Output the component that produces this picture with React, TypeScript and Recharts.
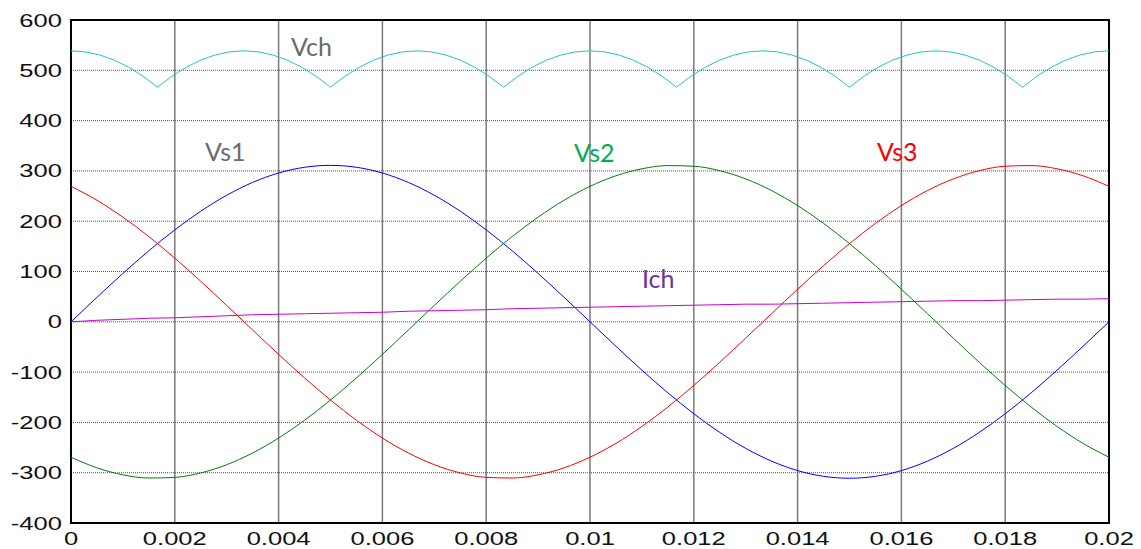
import React from "react";
import { LineChart, Line, XAxis, YAxis, CartesianGrid, ReferenceArea } from "recharts";

// sample times (s) for the three phase voltages and the charge current
const times = [
  0, 0.0005, 0.001, 0.0015, 0.002, 0.0025, 0.003, 0.0035, 0.004, 0.0045,
  0.005, 0.0055, 0.006, 0.0065, 0.007, 0.0075, 0.008, 0.0085, 0.009, 0.0095,
  0.01, 0.0105, 0.011, 0.0115, 0.012, 0.0125, 0.013, 0.0135, 0.014, 0.0145,
  0.015, 0.0155, 0.016, 0.0165, 0.017, 0.0175, 0.018, 0.0185, 0.019, 0.0195, 0.02,
];

const vs1 = [
  0, 48.7, 96.1, 141.2, 182.8, 219.9, 251.6, 277.1, 295.8, 307.2,
  311, 307.2, 295.8, 277.1, 251.6, 219.9, 182.8, 141.2, 96.1, 48.7,
  0, -48.7, -96.1, -141.2, -182.8, -219.9, -251.6, -277.1, -295.8, -307.2,
  -311, -307.2, -295.8, -277.1, -251.6, -219.9, -182.8, -141.2, -96.1, -48.7, 0,
];

const vs2 = [
  -269.3, -290.3, -304.2, -310.6, -309.3, -300.4, -284.1, -260.8, -231.1, -195.7,
  -155.5, -111.5, -64.7, -16.3, 32.5, 80.5, 126.5, 169.4, 208.1, 241.7,
  269.3, 290.3, 304.2, 310.6, 309.3, 300.4, 284.1, 260.8, 231.1, 195.7,
  155.5, 111.5, 64.7, 16.3, -32.5, -80.5, -126.5, -169.4, -208.1, -241.7, -269.3,
];

const vs3 = [
  269.3, 241.7, 208.1, 169.4, 126.5, 80.5, 32.5, -16.3, -64.7, -111.5,
  -155.5, -195.7, -231.1, -260.8, -284.1, -300.4, -309.3, -310.6, -304.2, -290.3,
  -269.3, -241.7, -208.1, -169.4, -126.5, -80.5, -32.5, 16.3, 64.7, 111.5,
  155.5, 195.7, 231.1, 260.8, 284.1, 300.4, 309.3, 310.6, 304.2, 290.3, 269.3,
];

const ich = [
  0, 3, 5, 7, 8, 10, 12, 14, 15, 16,
  17, 18, 19, 21, 22, 23, 24, 26, 27, 28,
  29, 30, 31, 32, 33, 34, 35, 35, 36, 37,
  38, 39, 40, 41, 42, 42, 43, 44, 45, 45, 46,
];

// rectified output voltage, sampled finer so the cusps stay sharp
const vchTimes = [
  0, 0.000278, 0.000556, 0.000833, 0.001111, 0.001389, 0.001667, 0.001944, 0.002222, 0.0025, 0.002778, 0.003056,
  0.003333, 0.003611, 0.003889, 0.004167, 0.004444, 0.004722, 0.005, 0.005278, 0.005556, 0.005833, 0.006111, 0.006389,
  0.006667, 0.006944, 0.007222, 0.0075, 0.007778, 0.008056, 0.008333, 0.008611, 0.008889, 0.009167, 0.009444, 0.009722,
  0.01, 0.010278, 0.010556, 0.010833, 0.011111, 0.011389, 0.011667, 0.011944, 0.012222, 0.0125, 0.012778, 0.013056,
  0.013333, 0.013611, 0.013889, 0.014167, 0.014444, 0.014722, 0.015, 0.015278, 0.015556, 0.015833, 0.016111, 0.016389,
  0.016667, 0.016944, 0.017222, 0.0175, 0.017778, 0.018056, 0.018333, 0.018611, 0.018889, 0.019167, 0.019444, 0.019722,
  0.02,
];

const vch = [
  538.7, 536.6, 530.5, 520.3, 506.2, 488.2, 466.5, 488.2, 506.2, 520.3, 530.5, 536.6,
  538.7, 536.6, 530.5, 520.3, 506.2, 488.2, 466.5, 488.2, 506.2, 520.3, 530.5, 536.6,
  538.7, 536.6, 530.5, 520.3, 506.2, 488.2, 466.5, 488.2, 506.2, 520.3, 530.5, 536.6,
  538.7, 536.6, 530.5, 520.3, 506.2, 488.2, 466.5, 488.2, 506.2, 520.3, 530.5, 536.6,
  538.7, 536.6, 530.5, 520.3, 506.2, 488.2, 466.5, 488.2, 506.2, 520.3, 530.5, 536.6,
  538.7, 536.6, 530.5, 520.3, 506.2, 488.2, 466.5, 488.2, 506.2, 520.3, 530.5, 536.6,
  538.7,
];

const xTicks = [0, 0.002, 0.004, 0.006, 0.008, 0.01, 0.012, 0.014, 0.016, 0.018, 0.02];
const xTickLabels = ["0", "0.002", "0.004", "0.006", "0.008", "0.01", "0.012", "0.014", "0.016", "0.018", "0.02"];
const yTicks = [-400, -300, -200, -100, 0, 100, 200, 300, 400, 500, 600];
const yTickLabels = ["-400", "-300", "-200", "-100", "0", "100", "200", "300", "400", "500", "600"];

const rows = times.map((t, i) => ({ t, vs1: vs1[i], vs2: vs2[i], vs3: vs3[i], ich: ich[i] }));
const vchRows = vchTimes.map((t, i) => ({ t, vch: vch[i] }));

const tickFont = "'Liberation Sans', Arial, sans-serif";
const labelFont = "Lato, 'Open Sans', sans-serif";

const XTick = (props: any) => {
  const { x, y, payload } = props;
  const i = xTicks.indexOf(payload.value);
  return (
    <g transform={`translate(${x},${y + 22})`}>
      <text textAnchor="middle" transform="scale(1.42,1)" fontSize={18} fill="#111" fontFamily={tickFont}>
        {xTickLabels[i]}
      </text>
    </g>
  );
};

const YTick = (props: any) => {
  const { y, payload } = props;
  const i = yTicks.indexOf(payload.value);
  return (
    <g transform={`translate(62,${y + 6.5})`}>
      <text textAnchor="end" transform="scale(1.42,1)" fontSize={18} fill="#111" fontFamily={tickFont}>
        {yTickLabels[i]}
      </text>
    </g>
  );
};

const seriesLabels = [
  { text: "Vch", x: 291, y: 56, color: "#6b6b6b" },
  { text: "Vs1", x: 205, y: 161, color: "#6b6b6b" },
  { text: "Vs2", x: 574, y: 162, color: "#00b050" },
  { text: "Vs3", x: 877, y: 161, color: "#ff0000" },
  { text: "Ich", x: 642, y: 288, color: "#7030a0" },
];

export default function App() {
  return (
    <div style={{ position: "absolute", left: 0, top: 0, width: 1141, height: 549, background: "#fff" }}>
      <LineChart width={1141} height={549} data={rows} margin={{ top: 20, right: 32, bottom: 0, left: 0 }}>
        <CartesianGrid horizontal={false} vertical stroke="#7a7a7a" strokeWidth={1.5} />
        <CartesianGrid horizontal vertical={false} stroke="#555" strokeDasharray="1 1" />
        <XAxis
          dataKey="t"
          type="number"
          domain={[0, 0.02]}
          ticks={xTicks}
          height={26}
          tickSize={0}
          tickMargin={0}
          tickLine={false}
          axisLine={false}
          tick={<XTick />}
          interval={0}
        />
        <YAxis
          type="number"
          domain={[-400, 600]}
          ticks={yTicks}
          width={71}
          tickSize={0}
          tickMargin={9}
          tickLine={false}
          axisLine={false}
          tick={<YTick />}
          interval={0}
        />
        <Line data={vchRows} dataKey="vch" type="linear" stroke="#22c4c4" strokeWidth={1} dot={false} isAnimationActive={false} />
        <Line dataKey="vs1" type="monotone" stroke="#0000ff" strokeWidth={1} dot={false} isAnimationActive={false} />
        <Line dataKey="vs2" type="monotone" stroke="#008000" strokeWidth={1} dot={false} isAnimationActive={false} />
        <Line dataKey="vs3" type="monotone" stroke="#ff0000" strokeWidth={1} dot={false} isAnimationActive={false} />
        <Line dataKey="ich" type="linear" stroke="#cc00cc" strokeWidth={1} dot={false} isAnimationActive={false} />
        <ReferenceArea x1={0} x2={0.02} y1={-400} y2={600} fill="none" fillOpacity={0} stroke="#000" strokeWidth={2} />
      </LineChart>
      <svg width={1141} height={549} style={{ position: "absolute", left: 0, top: 0, pointerEvents: "none" }}>
        {seriesLabels.map((l) => (
          <text key={l.text} x={l.x} y={l.y} fontSize={25} fill={l.color} fontFamily={labelFont}>
            {l.text}
          </text>
        ))}
      </svg>
    </div>
  );
}
